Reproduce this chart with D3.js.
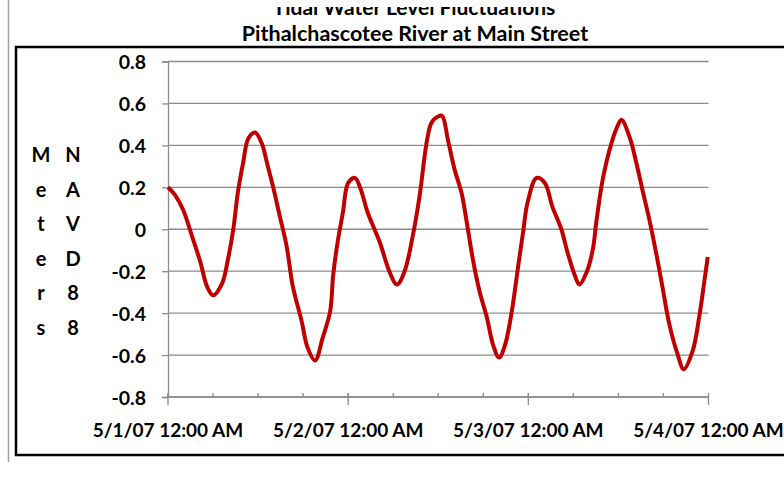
<!DOCTYPE html>
<html>
<head>
<meta charset="utf-8">
<script src="https://cdn.jsdelivr.net/npm/d3@7"></script>
<style>
  body { margin: 0; background: #fff; }
  svg text { font-family: "Lato", "Open Sans", sans-serif; font-weight: bold; fill: #000; }
</style>
</head>
<body>
<div class="chart"></div>
<script>
var width = 784,
    height = 486;

// hours after 5/1/07 12:00 AM
var hours = [0, 0.9, 2.0, 3.2, 4.3, 5.2, 6.0, 7.2, 8.0, 8.7, 9.3, 10.0, 10.7, 11.6, 12.5, 13.2, 14.0, 14.9,
    15.8, 16.6, 17.8, 18.6, 19.6, 20.6, 21.6, 22.0, 22.6, 23.3, 24.0, 24.9, 25.6, 26.6, 28.2, 29.5,
    30.5, 31.5, 32.6, 33.5, 34.5, 35.1, 35.9, 36.5, 37.3, 38.2, 39.1, 39.8, 40.6, 41.5, 42.5, 43.3,
    44.1, 44.9, 45.8, 46.6, 47.3, 47.9, 49.1, 50.2, 51.2, 52.4, 53.2, 54.2, 54.8, 55.8, 56.6, 57.1,
    57.9, 58.8, 59.8, 60.4, 61.5, 62.4, 63.2, 64.2, 65.1, 65.9, 66.8, 67.9, 68.7, 69.9, 70.8, 71.5, 71.9];
// water level, meters NAVD88
var levels = [0.20, 0.165, 0.094, -0.033, -0.155, -0.273, -0.315, -0.259, -0.141, 0.0, 0.174, 0.315, 0.433, 0.461, 0.409, 0.315, 0.202, 0.061,
    -0.08, -0.268, -0.438, -0.565, -0.626, -0.518, -0.391, -0.221, -0.061, 0.08, 0.221, 0.245, 0.198, 0.08, -0.061, -0.202,
    -0.264, -0.202, -0.033, 0.155, 0.424, 0.508, 0.536, 0.541, 0.424, 0.282, 0.174, 0.033, -0.141, -0.296, -0.424, -0.551,
    -0.612, -0.551, -0.391, -0.188, -0.014, 0.127, 0.245, 0.221, 0.108, 0.0, -0.108, -0.221, -0.264, -0.202, -0.094, 0.047,
    0.235, 0.376, 0.485, 0.522, 0.438, 0.315, 0.188, 0.033, -0.127, -0.282, -0.456, -0.598, -0.668, -0.579, -0.409, -0.235, -0.132];

var yTicks = [-0.8, -0.6, -0.4, -0.2, 0, 0.2, 0.4, 0.6, 0.8];
var xTickLabels = ["5/1/07 12:00 AM", "5/2/07 12:00 AM", "5/3/07 12:00 AM", "5/4/07 12:00 AM"];
var yLabelLeft = ["M", "e", "t", "e", "r", "s"];
var yLabelRight = ["N", "A", "V", "D", "8", "8"];

var start = new Date(2007, 4, 1, 0, 0);
var end = new Date(2007, 4, 4, 0, 0);

var data = hours.map(function(h, i) {
    return { date: new Date(start.getTime() + h * 3600e3), level: levels[i] };
});

var x = d3.scaleTime().domain([start, end]).range([168, 708.5]);
var y = d3.scaleLinear().domain([-0.8, 0.8]).range([397, 61.5]);

var svg = d3.select(".chart").append("svg")
    .attr("width", width)
    .attr("height", height);

svg.append("rect").attr("width", width).attr("height", height).attr("fill", "#fff");

// outer frame bits
svg.append("line")
    .attr("x1", 8.5).attr("x2", 8.5).attr("y1", 0).attr("y2", 462)
    .attr("stroke", "#a0a0a0").attr("stroke-width", 1.5);
svg.append("rect")
    .attr("x", 16).attr("y", 47).attr("width", 800).attr("height", 408)
    .attr("fill", "none").attr("stroke", "#000").attr("stroke-width", 2.5);

// gridlines
svg.append("g")
    .selectAll("line")
    .data(yTicks)
    .enter().append("line")
    .attr("x1", x(start)).attr("x2", x(end))
    .attr("y1", function(d) { return y(d); })
    .attr("y2", function(d) { return y(d); })
    .attr("stroke", "#8c8c8c").attr("stroke-width", 1.3);

// y axis
var yAxis = d3.axisLeft(y).tickValues(yTicks).tickSize(6).tickPadding(16)
    .tickFormat(function(d) { return d === 0 ? "0" : d.toFixed(1); });
var gy = svg.append("g").attr("transform", "translate(" + x(start) + ",0)").call(yAxis);
gy.select(".domain").attr("stroke", "#8c8c8c").attr("stroke-width", 1.3);
gy.selectAll(".tick line").attr("stroke", "#8c8c8c").attr("stroke-width", 1.3);
gy.selectAll("text").style("font-size", "19.5px").attr("dy", "0.36em");

// x axis: minor ticks every 6 hours, major at midnight
var gx = svg.append("g").attr("transform", "translate(0," + y(-0.8) + ")");
gx.append("line")
    .attr("x1", x(start)).attr("x2", x(end))
    .attr("stroke", "#8c8c8c").attr("stroke-width", 1.3);
gx.selectAll(".minor")
    .data(d3.timeHour.every(6).range(start, end))
    .enter().append("line")
    .attr("x1", function(d) { return x(d); })
    .attr("x2", function(d) { return x(d); })
    .attr("y1", -4).attr("y2", 0)
    .attr("stroke", "#8c8c8c").attr("stroke-width", 1.3);
var days = d3.timeDay.range(start, d3.timeDay.offset(end, 1));
gx.selectAll(".major")
    .data(days)
    .enter().append("line")
    .attr("x1", function(d) { return x(d); })
    .attr("x2", function(d) { return x(d); })
    .attr("y1", -4).attr("y2", 8)
    .attr("stroke", "#8c8c8c").attr("stroke-width", 1.3);
gx.selectAll("text")
    .data(days)
    .enter().append("text")
    .attr("x", function(d) { return x(d); })
    .attr("y", 40)
    .attr("text-anchor", "middle")
    .style("font-size", "19px")
    .text(function(d, i) { return xTickLabels[i]; });

// water level line
var line = d3.line()
    .x(function(d) { return x(d.date); })
    .y(function(d) { return y(d.level); })
    .curve(d3.curveCatmullRom);

svg.append("path")
    .datum(data)
    .attr("fill", "none")
    .attr("stroke", "#c00000")
    .attr("stroke-width", 4)
    .attr("stroke-linejoin", "round")
    .attr("d", line);

// titles (the top line is cropped in the original picture)
svg.append("clipPath").attr("id", "titleClip")
    .append("rect").attr("x", 0).attr("y", 7).attr("width", width).attr("height", 40);
svg.append("text")
    .attr("clip-path", "url(#titleClip)")
    .attr("x", 414).attr("y", 15)
    .attr("text-anchor", "middle")
    .style("font-size", "21px")
    .text("Tidal Water Level Fluctuations");
svg.append("text")
    .attr("x", 415).attr("y", 41)
    .attr("text-anchor", "middle")
    .style("font-size", "21.5px")
    .text("Pithalchascotee River at Main Street");

// stacked axis title
svg.append("g").selectAll("text")
    .data(yLabelLeft)
    .enter().append("text")
    .attr("x", 41)
    .attr("y", function(d, i) { return 162 + i * 34.6; })
    .attr("text-anchor", "middle")
    .style("font-size", "20px")
    .text(function(d) { return d; });
svg.append("g").selectAll("text")
    .data(yLabelRight)
    .enter().append("text")
    .attr("x", 73)
    .attr("y", function(d, i) { return 162 + i * 34.6; })
    .attr("text-anchor", "middle")
    .style("font-size", "20px")
    .text(function(d) { return d; });
</script>
</body>
</html>
